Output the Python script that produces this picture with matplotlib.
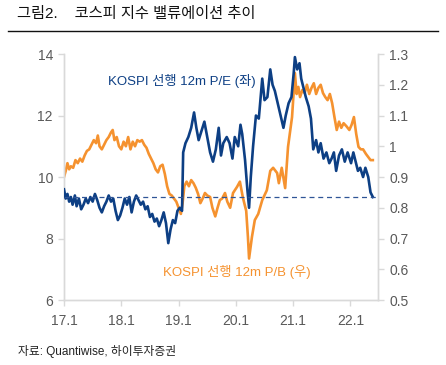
import matplotlib
matplotlib.use("Agg")
import matplotlib.pyplot as plt
from matplotlib.lines import Line2D

plt.rcParams['font.family'] = ['Liberation Sans', 'Noto Sans CJK KR', 'DejaVu Sans']

title = "그림2.    코스피 지수 밸류에이션 추이"
source = "자료: Quantiwise, 하이투자증권"
pe_label = "KOSPI 선행 12m P/E (좌)"
pb_label = "KOSPI 선행 12m P/B (우)"

xtick_pos = [2017, 2018, 2019, 2020, 2021, 2022]
xtick_labels = ["17.1", "18.1", "19.1", "20.1", "21.1", "22.1"]
left_ticks = [6, 8, 10, 12, 14]
right_ticks = [0.5, 0.6, 0.7, 0.8, 0.9, 1.0, 1.1, 1.2, 1.3]
right_labels = ["0.5", "0.6", "0.7", "0.8", "0.9", "1", "1.1", "1.2", "1.3"]
pe_ref = 9.35

pe_dates = [2017.00, 2017.03, 2017.06, 2017.09, 2017.12, 2017.15, 2017.19, 2017.22, 2017.26, 2017.30,
            2017.34, 2017.38, 2017.42, 2017.46, 2017.50, 2017.54, 2017.58, 2017.62, 2017.66, 2017.70,
            2017.74, 2017.78, 2017.82, 2017.86, 2017.90, 2017.94, 2017.98, 2018.02, 2018.06, 2018.10,
            2018.14, 2018.18, 2018.22, 2018.26, 2018.30, 2018.34, 2018.38, 2018.42, 2018.46, 2018.50,
            2018.54, 2018.58, 2018.62, 2018.66, 2018.70, 2018.74, 2018.78, 2018.82, 2018.86, 2018.90,
            2018.94, 2018.98, 2019.02, 2019.06, 2019.08, 2019.12, 2019.17, 2019.22, 2019.27, 2019.31,
            2019.35, 2019.40, 2019.45, 2019.50, 2019.55, 2019.60, 2019.65, 2019.70, 2019.74, 2019.78,
            2019.84, 2019.89, 2019.94, 2019.98, 2020.04, 2020.08, 2020.11, 2020.16, 2020.20, 2020.23,
            2020.26, 2020.30, 2020.35, 2020.40, 2020.46, 2020.50, 2020.55, 2020.60, 2020.64, 2020.68,
            2020.73, 2020.78, 2020.83, 2020.87, 2020.92, 2020.97, 2021.01, 2021.03, 2021.07, 2021.11,
            2021.14, 2021.18, 2021.22, 2021.27, 2021.31, 2021.35, 2021.40, 2021.44, 2021.48, 2021.53,
            2021.58, 2021.63, 2021.67, 2021.71, 2021.75, 2021.80, 2021.85, 2021.90, 2021.95, 2022.01,
            2022.05, 2022.09, 2022.13, 2022.17, 2022.22, 2022.26, 2022.31, 2022.35, 2022.39]
pe_values = [9.6, 9.3, 9.45, 9.2, 9.35, 9.1, 9.4, 9.05, 9.3, 8.95,
             9.1, 9.3, 9.15, 9.35, 9.2, 9.45, 9.25, 9.0, 8.85, 9.05,
             9.2, 9.4, 9.2, 9.3, 8.9, 8.6, 8.75, 9.0, 9.3, 9.1,
             9.35, 8.85, 9.2, 9.4, 9.25, 9.1, 9.2, 8.95, 9.05, 8.7,
             8.8, 8.55, 8.65, 8.4, 8.6, 8.85, 8.5, 7.85, 8.3, 8.6,
             8.5, 8.9, 9.0, 8.9, 10.8, 11.1, 11.3, 11.6, 12.1, 11.6,
             11.2, 11.5, 11.8, 11.3, 10.8, 10.5, 10.9, 11.6, 10.7, 11.1,
             11.3, 11.1, 10.6, 11.3, 11.0, 11.7, 11.4, 10.55, 9.6, 9.0,
             10.0, 11.0, 12.0, 11.9, 13.2, 12.5, 12.6, 13.5, 13.0, 12.8,
             12.4, 12.0, 11.6, 12.0, 12.4, 12.6, 13.4, 13.9, 13.5, 13.7,
             13.2, 12.9, 12.6, 12.3, 11.9, 10.9, 11.2, 10.8, 11.1, 10.6,
             10.8, 10.45, 10.6, 10.8, 10.2, 10.7, 10.9, 10.5, 10.8, 10.45,
             10.8, 10.5, 10.2, 10.3, 10.0, 10.3, 10.0, 9.5, 9.35]

pb_dates = [2017.00, 2017.03, 2017.06, 2017.09, 2017.12, 2017.16, 2017.20, 2017.24, 2017.28, 2017.32,
            2017.36, 2017.40, 2017.44, 2017.48, 2017.52, 2017.56, 2017.59, 2017.62, 2017.66, 2017.70,
            2017.74, 2017.78, 2017.82, 2017.85, 2017.88, 2017.92, 2017.96, 2018.00, 2018.04, 2018.08,
            2018.12, 2018.16, 2018.20, 2018.24, 2018.28, 2018.32, 2018.36, 2018.40, 2018.44, 2018.48,
            2018.52, 2018.56, 2018.60, 2018.64, 2018.68, 2018.72, 2018.76, 2018.80, 2018.84, 2018.88,
            2018.92, 2018.96, 2019.00, 2019.04, 2019.07, 2019.10, 2019.14, 2019.18, 2019.22, 2019.26,
            2019.30, 2019.34, 2019.38, 2019.42, 2019.46, 2019.50, 2019.55, 2019.59, 2019.64, 2019.68,
            2019.72, 2019.76, 2019.81, 2019.85, 2019.90, 2019.95, 2020.02, 2020.07, 2020.12, 2020.18,
            2020.21, 2020.23, 2020.28, 2020.33, 2020.39, 2020.46, 2020.54, 2020.60, 2020.65, 2020.72,
            2020.75, 2020.80, 2020.86, 2020.91, 2020.98, 2021.03, 2021.06, 2021.09, 2021.12, 2021.16,
            2021.20, 2021.24, 2021.28, 2021.32, 2021.36, 2021.40, 2021.44, 2021.48, 2021.52, 2021.56,
            2021.60, 2021.64, 2021.68, 2021.72, 2021.76, 2021.80, 2021.84, 2021.88, 2021.93, 2021.98,
            2022.02, 2022.06, 2022.10, 2022.14, 2022.18, 2022.22, 2022.27, 2022.31, 2022.35, 2022.39]
pb_values = [0.90, 0.92, 0.945, 0.925, 0.935, 0.93, 0.955, 0.945, 0.96, 0.95,
             0.97, 0.985, 0.99, 1.005, 1.02, 1.01, 1.035, 1.0, 0.99, 1.005,
             1.02, 1.03, 1.045, 1.053, 1.02, 1.03, 1.0, 0.99, 1.015, 1.0,
             1.03, 0.99, 1.015, 1.0, 1.02, 1.015, 1.02, 1.005, 0.995, 0.975,
             0.96, 0.945, 0.925, 0.915, 0.935, 0.94, 0.91, 0.87, 0.845, 0.84,
             0.83, 0.82, 0.80, 0.78, 0.815, 0.87, 0.885, 0.87, 0.89, 0.88,
             0.865, 0.845, 0.815, 0.83, 0.848, 0.84, 0.835, 0.80, 0.772, 0.80,
             0.825, 0.83, 0.848, 0.82, 0.80, 0.848, 0.868, 0.885, 0.835, 0.79,
             0.705, 0.635, 0.705, 0.76, 0.78, 0.825, 0.857, 0.92, 0.93, 0.913,
             0.88, 0.93, 0.864, 0.998, 1.095, 1.238, 1.17, 1.193, 1.16, 1.183,
             1.173, 1.2, 1.17, 1.19, 1.205, 1.17, 1.19, 1.2, 1.173, 1.16,
             1.15, 1.17, 1.14, 1.095, 1.053, 1.08, 1.06, 1.075, 1.065, 1.053,
             1.07, 1.095, 1.04, 0.998, 0.99, 0.99, 0.975, 0.965, 0.955, 0.955]

blue = "#0D3F84"
orange = "#F5922F"
gray_text = "#595959"
spine_col = "#D9D9D9"

fig = plt.figure(figsize=(4.46, 3.65), dpi=100)
ax = fig.add_axes([0.1435, 0.178, 0.704, 0.674])
ax2 = ax.twinx()

ax2.plot(pb_dates, pb_values, color=orange, lw=1.9, zorder=2)
ax.plot(pe_dates, pe_values, color=blue, lw=1.9, zorder=3)
ax.axhline(pe_ref, color="#2F5597", lw=0.9, ls=(0, (4, 3)), zorder=4)
ax.set_zorder(ax2.get_zorder() + 1)
ax.patch.set_visible(False)

ax.set_xlim(2017.0, 2022.48)
ax.set_ylim(6, 14)
ax2.set_ylim(0.5, 1.3)
ax.set_xticks(xtick_pos)
ax.set_xticklabels(xtick_labels)
ax.set_yticks(left_ticks)
ax.set_yticklabels([str(v) for v in left_ticks])
ax2.set_yticks(right_ticks)
ax2.set_yticklabels(right_labels)

for a in (ax, ax2):
    for s in a.spines.values():
        s.set_color(spine_col)
        s.set_linewidth(1.0)
    a.spines['top'].set_visible(False)
    a.tick_params(colors=spine_col, labelcolor=gray_text, labelsize=10, length=4, width=1.0)
ax.tick_params(axis='x', pad=6)
ax.tick_params(axis='y', pad=4)
ax2.tick_params(axis='y', pad=4)

ax.text(2017.77, 13.12, pe_label, color=blue, fontsize=9.5, va='center', ha='left')
ax.text(2018.73, 6.91, pb_label, color=orange, fontsize=9.5, va='center', ha='left')

fig.text(17 / 446, 1 - 14 / 365, title, fontsize=11, color="#111111", va='center', ha='left')
fig.add_artist(Line2D([8 / 446, 438 / 446], [1 - 31 / 365, 1 - 31 / 365], color="#111111", lw=1.0))
fig.text(18 / 446, 1 - 352 / 365, source, fontsize=8.5, color="#222222", va='center', ha='left')

fig.savefig("out.png", dpi=100)
